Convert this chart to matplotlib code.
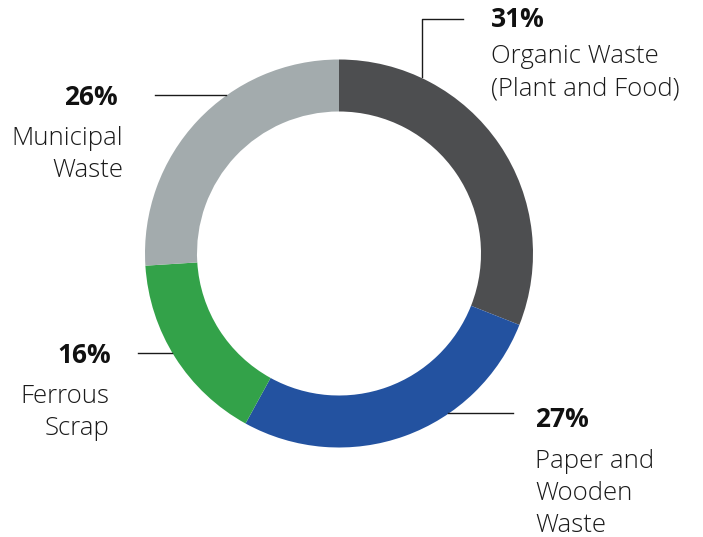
import matplotlib.pyplot as plt

categories = ["Organic Waste\n(Plant and Food)", "Paper and\nWooden\nWaste", "Ferrous\nScrap", "Municipal\nWaste"]
shares = [31, 27, 16, 26]
colors = ["#4d4e50", "#2352a0", "#33a249", "#a3abad"]

W, H = 703, 537
fig = plt.figure(figsize=(W / 100, H / 100), dpi=100)
ax = fig.add_axes([0, 0, 1, 1])

cx, cy, r_out, ring = 339, H - 253.5, 194, 52
ax.pie(shares, colors=colors, startangle=90, counterclock=False,
       center=(cx, cy), radius=r_out, frame=True,
       wedgeprops=dict(width=ring, linewidth=0))
ax.set_xlim(0, W)
ax.set_ylim(0, H)
ax.set_aspect("equal")
ax.axis("off")

fam = ["Open Sans", "DejaVu Sans"]
pct_kw = dict(fontsize=19, fontweight="bold", family=fam, color="#111111")
lab_kw = dict(fontsize=18.5, fontweight="light", family=fam, color="#1a1a1a")
line_step = 32


def y(p):
    return H - p


def label(x, pct_base, text_base, idx, ha):
    ax.text(x[0], y(pct_base), f"{shares[idx]}%", ha=ha, va="baseline", **pct_kw)
    for i, line in enumerate(categories[idx].split("\n")):
        ax.text(x[1], y(text_base + i * line_step), line, ha=ha, va="baseline", **lab_kw)


line_kw = dict(color="#1a1a1a", lw=1.0)

# Organic waste (top right)
ax.plot([422, 422, 463], [y(77), y(19), y(19)], **line_kw)
label((491, 491), 27, 63, 0, "left")

# Paper and wooden waste (bottom right)
ax.plot([448, 513], [y(413), y(413)], **line_kw)
label((535, 535), 427, 468, 1, "left")

# Ferrous scrap (left, lower)
ax.plot([138, 172], [y(352.5), y(352.5)], **line_kw)
label((111, 109), 363, 403, 2, "right")

# Municipal waste (left, upper)
ax.plot([155, 226], [y(95), y(95)], **line_kw)
label((118, 123), 105, 145, 3, "right")

fig.savefig("out.png", dpi=100)
